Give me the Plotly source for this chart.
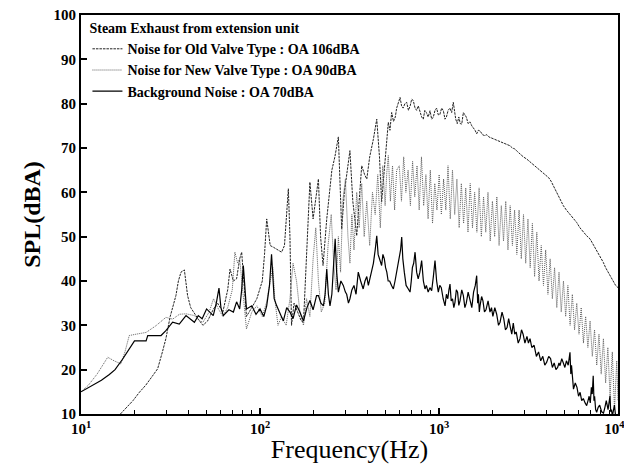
import plotly.graph_objects as go

# ---------------- data ----------------
old_f = [16.6, 18, 19.5, 21.2, 23, 25, 26.8, 28.5, 29.8, 31.5, 33.9, 35, 36.2, 37.8, 39.4, 41, 43,
         45, 48, 51, 55, 58, 62, 66, 68, 71, 74, 77, 79, 81, 84, 90, 96, 103, 106, 109, 112, 114,
         119, 125, 132, 137, 141, 144, 147, 150, 155, 162, 170, 175, 182, 190, 198, 204, 212, 218,
         225, 236, 245, 252, 262, 274, 280, 286, 296, 308, 318, 330, 347, 358, 370, 384, 395, 410,
         430, 449, 465, 478, 495, 510, 521, 532, 544, 557, 570, 580, 590, 606, 618, 630, 645, 660,
         675, 690, 704, 718, 735, 750, 766, 783, 800, 817, 833, 850, 870, 891, 910, 930, 950, 970,
         990, 1010, 1035, 1058, 1080, 1100, 1125, 1152, 1177, 1202, 1220, 1240, 1265, 1290, 1315,
         1340, 1368, 1395, 1420, 1455, 1490, 1525, 1560, 1590, 1624, 1660, 1700, 1750, 1800, 1850,
         1900, 1950, 2011, 2080, 2150, 2220, 2300, 2400, 2494, 2570, 2650, 2740, 2835, 2960, 3092,
         3240, 3400, 3600, 3826, 3960, 4100, 4230, 4353, 4500, 4650, 4800, 4948, 5150, 5400, 5640,
         5877, 6130, 6400, 6680, 6977, 7280, 7600, 7930, 8277, 8530, 8800, 9100, 9415, 9700, 10000]
old_v = [10, 11.5, 13, 14.9, 16.5, 18.5, 20.2, 24, 27, 32, 36.7, 40, 42, 42.5, 36.7, 34, 32.6,
         31.5, 30, 31, 33.7, 35, 33, 38, 42.7, 40, 40.5, 45, 46.5, 40, 32, 34, 36, 40, 46, 54, 50, 48,
         47.6, 47, 46.5, 48, 55, 60.8, 50, 30, 35, 33, 31, 30.7, 45, 62.3, 54, 58, 63, 50,
         43.5, 54, 60, 65, 68, 72.5, 62, 51.7, 60, 66, 69.4, 58, 50.2, 58, 66, 64, 63, 68,
         72, 76.5, 68, 57.8, 66, 72, 75.8, 74, 78, 76, 77, 79, 80, 81.4, 79.5, 79, 80, 80.3,
         78.5, 79.5, 81, 80.7, 79, 78.5, 79.5, 78, 77, 76.5, 78.5, 78, 77, 78.4, 76.5, 77, 78.5, 79,
         77.5, 77.5, 79, 78.4, 76.5, 77, 78.5, 79, 78, 80.3, 78, 76.5, 75.5, 77, 75.5,
         75.4, 78, 77.5, 77, 75.5, 75.9, 75, 74.5, 74, 73.2, 74, 73.8, 73, 72.8, 73,
         72.5, 72.3, 72, 71.8, 71.5, 71.3, 71, 70.7, 70.5, 70, 69.8, 69.2, 68.6, 68, 67.5,
         66.8, 66.2, 65.3, 64.5, 64, 63.3, 62.5, 61.5, 60.5, 59.5, 58.2, 57, 56, 55, 54,
         53.2, 52, 51, 50.2, 49.5, 48.2, 47, 45.5, 44.2, 43, 42, 41, 39.7, 39, 38.5]

new_f = [10, 11, 12.3, 13.4, 14.1, 15.3, 16.7, 17.6, 18.6, 20.3, 23.1, 26.2, 29.8, 32.5, 35.5, 38.6,
         43, 46, 48, 52, 55, 58, 62, 66, 70, 72.4, 75, 77, 80, 84, 90, 96, 103, 109, 114, 118, 121,
         126, 132, 140, 147, 153, 160, 167, 175, 182, 190, 198, 205, 212, 220, 230, 240, 250, 258,
         266, 274, 282, 290, 300, 310, 318, 326, 335, 347, 358, 370, 382, 395, 410, 425, 440, 455,
         470, 485, 500, 511, 521, 535, 550, 565, 580,
         600, 617, 635, 653, 672, 692, 712, 732, 754, 775, 798, 821, 845, 869, 894, 920, 947, 974,
         1002, 1031, 1061, 1092, 1123, 1156, 1189, 1224, 1259, 1296, 1333, 1372, 1411, 1452, 1494,
         1538, 1582, 1628, 1675, 1724, 1774, 1825, 1878, 1932, 1988, 2046, 2105, 2166, 2229, 2293,
         2360, 2428, 2498, 2571, 2645, 2722, 2801, 2882, 2965, 3051, 3140, 3231, 3324, 3420, 3519,
         3621, 3726, 3834, 3945, 4060, 4177, 4298, 4423, 4551, 4683, 4818, 4958, 5101, 5249, 5401,
         5558, 5719, 5884, 6055, 6230, 6411, 6596, 6787, 6984, 7186, 7394, 7609, 7829, 8056, 8289,
         8529, 8776, 9031, 9292, 9561, 9838, 10000]
new_v = [15, 16.5, 19, 21.5, 22.8, 22, 21.3, 24, 27.7, 28, 28.4, 29.9, 31.8, 31.4, 32.5, 32.6,
         32.2, 31, 30.7, 33, 36, 34, 32, 34, 38, 46.5, 44, 45, 38, 29.2, 33, 34.4, 32, 35.3, 40, 43, 36,
         30, 32, 30, 36, 44, 40, 33, 30, 36, 32, 45, 52, 40, 33, 35, 48, 55, 44,
         38, 50, 42, 58, 63, 50, 44, 55, 47, 60, 52, 62, 50, 58, 48, 60, 55, 64,
         52, 66, 57, 64.5, 68.3, 58, 66, 56, 65,
         66, 58, 68, 60, 65, 57, 67, 59, 66, 56, 68, 57, 64, 54, 65, 53, 62, 56,
         64, 55, 63, 56, 66, 54, 65, 55, 63, 52, 62, 53, 61, 51, 62,
         52, 60, 51, 61, 50, 59, 51, 60, 49, 58, 50, 59, 48, 57, 49,
         58, 47, 57, 48, 56, 46, 56, 45, 55, 44, 54, 43, 53, 41, 51,
         40, 48, 39, 47, 37, 45, 36, 43, 34, 42, 33, 40, 32, 39, 30,
         37, 29, 35, 28, 34, 26, 32, 25, 31, 23, 29, 21, 28, 19, 27,
         17, 25, 14, 24, 11, 22, 13]

bg_f = [10, 11, 12, 13, 14.4, 15.5, 17.1, 18.5, 19.9, 21.5, 23.1, 23.6, 26, 28, 29.8, 32.5, 35.4,
        38.6, 43, 45.2, 47.5, 50.3, 54.8, 57, 59, 60.5, 62.4, 67, 71, 74, 77, 79, 80.7, 82.5, 84, 90,
        95, 100, 105, 109, 113, 116, 118.5, 120, 124, 130, 135, 141, 147, 153, 160, 167, 175, 183,
        190, 198, 207, 212, 219, 226, 231, 236, 241, 246, 252, 258, 263, 268, 274, 283, 292, 300,
        305, 312, 318, 326, 335, 344, 354, 365, 377, 386, 395, 403, 412, 420, 430, 440, 449, 457,
        465, 478, 486, 495, 503, 511, 520, 530, 543, 556, 568, 580, 590, 600, 610, 619, 628, 640,
        655, 674, 689, 700, 710, 722, 735, 750, 765, 782, 800, 818, 835, 850, 870, 890, 910, 930,
        950, 970, 991, 1010, 1030, 1055, 1081, 1100, 1120, 1136, 1152, 1170, 1190, 1210, 1228,
        1250, 1270, 1290, 1310, 1340, 1368, 1395, 1420, 1455, 1490, 1525, 1560, 1595, 1624, 1645,
        1660, 1680, 1695, 1730, 1760, 1795, 1830, 1880, 1927, 1965, 2000, 2050, 2100, 2150, 2193,
        2250, 2300, 2350, 2400, 2450, 2494, 2550, 2600, 2650, 2700, 2770, 2835, 2890, 2950, 3020,
        3100, 3160, 3225, 3300, 3400, 3500, 3600, 3700, 3800, 3900, 3996, 4100, 4200, 4300, 4400,
        4500, 4600, 4680, 4743, 4850, 4950, 5050, 5150, 5270, 5392, 5450, 5500, 5570, 5640, 5770,
        5900, 6020, 6140, 6270, 6400, 6550, 6683, 6800, 6900, 7000, 7100, 7180, 7270, 7340, 7400,
        7500, 7600, 7750, 7900, 8100, 8300, 8450, 8600, 8800, 9023, 9100, 9200, 9300, 9415, 9550,
        9700, 9850, 10000]
bg_v = [15, 16, 16.8, 17.6, 18.9, 20, 22.4, 24.5, 26.5, 26.5, 26.5, 27.7, 27.7, 27.7, 28.8, 30.7, 30.3,
        32.2, 30.7, 32.2, 31.5, 33.7, 32.2, 35, 38.4, 34, 32.2, 33.5, 33, 35.3, 33.7, 38, 43.5, 37, 33.7, 34.4,
        32.5, 33.7, 32, 34.4, 39, 46, 39, 36, 34.4, 32.5, 31, 34, 33, 31.5, 34.6, 33, 31, 34,
        35.6, 33.5, 36.7, 36.7, 35, 34.4, 37, 42.7, 37, 34.4, 37, 44, 49.5, 42, 37.5, 40, 39, 37.5,
        37, 35, 36, 38, 39, 37, 42, 40, 38.2, 40, 41, 39, 40.5, 42, 44, 47, 50.2, 46,
        45, 43.5, 46, 45, 43, 42, 40, 40, 39, 38.2, 40, 42, 44, 45, 47, 49.9, 45, 42,
        39, 38.2, 37.5, 40, 43, 44, 46.5, 42, 40.5, 42, 44.6, 40, 38.2, 39, 37.5, 38.5, 37.8, 41,
        44.6, 40, 37.5, 39, 38.5, 36, 34.4, 37, 36, 38, 39.3, 35.5, 36, 34, 35.2,
        38, 37.5, 34.5, 35.5, 38, 36.7, 34, 35, 37.5, 36, 34, 37.5, 39, 41.2, 35,
        37, 33, 34.4, 36.5, 35.5, 33, 33.5, 35.5, 33, 34, 32, 34, 32.5, 30, 30.7,
        33, 31.5, 29, 29.5, 31.5, 29.9, 28, 30.5, 28, 28.5, 26, 27, 29, 28, 26,
        27.5, 26, 27, 25, 25.5, 23, 24, 22, 23, 21, 21.7, 23, 22.5, 20.5, 21.5,
        20, 20.5, 21.5, 20.9, 22.5, 21.5, 20.5, 22, 21, 23.9, 19, 21, 17, 15.6, 17,
        16, 14, 14.9, 13, 13.5, 12.5, 11.9, 13, 14, 12.5, 16, 14.5, 18.6, 13, 14,
        11, 10.4, 11.5, 12, 10.5, 10.2, 11.5, 13, 11, 14.1, 10.5, 11, 9.5, 10.4, 12,
        9.5, 9.8, 9]

legend_title = "Steam Exhaust from extension unit"
names = ["Noise for Old Valve Type : OA 106dBA",
         "Noise for New Valve Type : OA 90dBA",
         "Background Noise : OA 70dBA"]

x_tickvals = [10, 100, 1000, 10000]
x_ticktext = ["10<sup>1</sup>", "10<sup>2</sup>", "10<sup>3</sup>", "10<sup>4</sup>&nbsp;&nbsp;"]
x_minor = [m * 10 ** e for e in (1, 2, 3) for m in range(2, 10)]

FONT = "Liberation Serif"

fig = go.Figure()
fig.add_trace(go.Scatter(x=old_f, y=old_v, mode="lines", name="<b>" + names[0] + "</b>",
                         line=dict(color="#222222", width=1, dash="2.5px,1px")))
fig.add_trace(go.Scatter(x=new_f, y=new_v, mode="lines", name="<b>" + names[1] + "</b>",
                         line=dict(color="#5e5e5e", width=1, dash="1px,1px")))
fig.add_trace(go.Scatter(x=bg_f, y=bg_v, mode="lines", name="<b>" + names[2] + "</b>",
                         line=dict(color="black", width=1.2)))

fig.update_layout(
    width=624, height=476,
    margin=dict(l=81, r=6, t=15, b=62, autoexpand=False),
    paper_bgcolor="white", plot_bgcolor="white",
    font=dict(family=FONT, color="black"),
    showlegend=True,
    legend=dict(x=0.012, y=1.0, xanchor="left", yanchor="top",
                bgcolor="rgba(0,0,0,0)", borderwidth=0,
                font=dict(family=FONT, size=14, color="black"),
                title=dict(text="<b>" + legend_title + "</b>", font=dict(family=FONT, size=14)),
                itemwidth=30, tracegroupgap=0),
)
fig.update_xaxes(type="log", range=[1, 4], tickmode="array", tickvals=x_tickvals, ticktext=x_ticktext,
                 ticks="inside", ticklen=6, tickwidth=1.5, tickcolor="black",
                 ticklabeloverflow="allow", automargin=False,
                 showline=True, linewidth=2, linecolor="black", mirror=True,
                 showgrid=False, zeroline=False,
                 minor=dict(ticks="inside", ticklen=4, tickwidth=1, tickcolor="black",
                            tickmode="array", tickvals=x_minor, showgrid=False),
                 tickfont=dict(family=FONT, size=15, weight="bold"),
                 title=dict(text="Frequency(Hz)", font=dict(family=FONT, size=26), standoff=4))
fig.update_yaxes(range=[10, 100], tickmode="linear", tick0=10, dtick=10,
                 ticks="inside", ticklen=6, tickwidth=1.5, tickcolor="black",
                 automargin=False,
                 showline=True, linewidth=2, linecolor="black", mirror=True,
                 showgrid=False, zeroline=False,
                 tickfont=dict(family=FONT, size=15, weight="bold"),
                 title=dict(text="<b>SPL(dBA)</b>", font=dict(family=FONT, size=24), standoff=6))

fig.write_html("out.html")
